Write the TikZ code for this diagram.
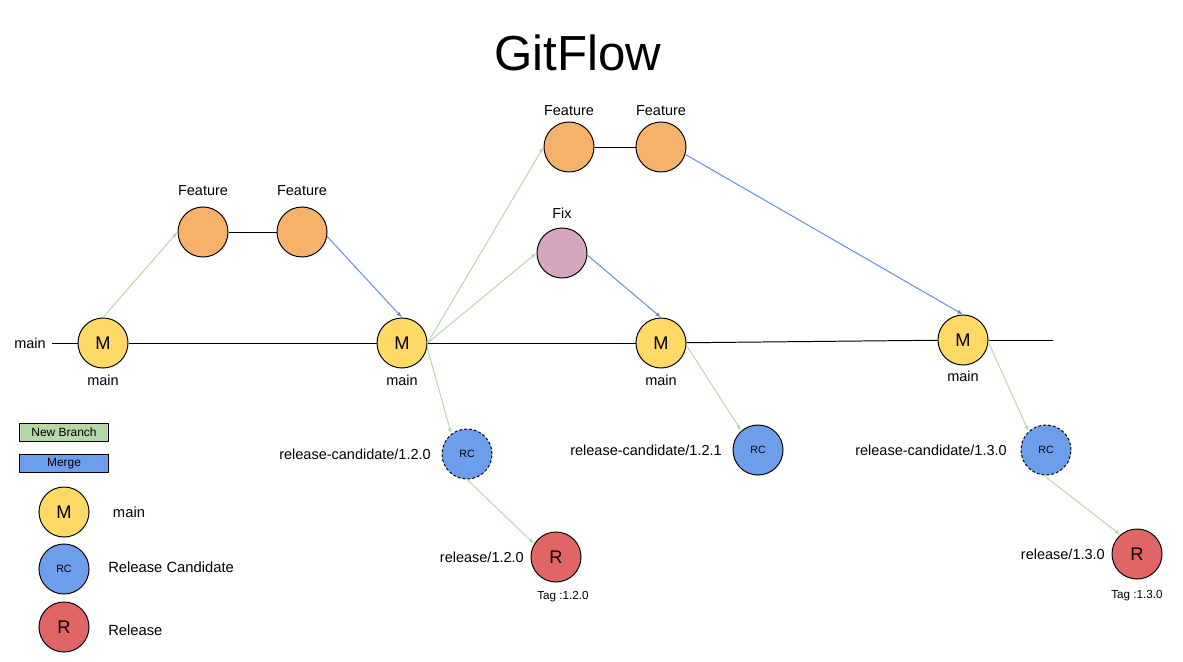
\documentclass[tikz,border=0pt]{standalone}
\usepackage{fontspec}
\setmainfont{Liberation Sans}
\usetikzlibrary{arrows.meta}
\definecolor{gfyellow}{HTML}{FFD966}
\definecolor{gforange}{HTML}{F6B26B}
\definecolor{gfpink}{HTML}{D5A6BD}
\definecolor{gfblue}{HTML}{6D9EEB}
\definecolor{gfred}{HTML}{E06666}
\definecolor{gfgreen}{HTML}{B6D7A8}
\newcommand\fsz[1]{\fontsize{#1}{#1}\selectfont}

\begin{document}
\begin{tikzpicture}[x=0.025cm, y=-0.025cm,
	commit/.style = {draw, circle, line width=0.7pt, minimum size=1.25cm, inner sep=0pt},
	mnode/.style = {commit, fill=gfyellow, font=\fsz{13}},
	feat/.style = {commit, fill=gforange},
	fixnode/.style = {commit, fill=gfpink},
	rcnode/.style = {commit, fill=gfblue, font=\fsz{7.5}},
	relnode/.style = {commit, fill=gfred, font=\fsz{13}},
	lbl/.style = {font=\fsz{10.3}, inner sep=0pt},
	legbox/.style = {draw, line width=0.7pt, minimum width=2.2cm, minimum height=0.47cm, inner sep=0pt, font=\fsz{8.5}},
	branch/.style = {draw=gfgreen, line width=0.7pt, -{Latex[length=4pt,width=3pt]}},
	merge/.style = {draw=gfblue!90!black, line width=0.7pt, -{Latex[length=4pt,width=3pt]}}]
	\useasboundingbox (0,0) rectangle (1183,662);
	\node[font=\fsz{35}] (title) at (578,53) {GitFlow};
	% main line
	\node[lbl] (start) at (30,343) {main};
	\coordinate (m0) at (52,343);
	\coordinate (m5) at (1053,340);
	\node[mnode] (M1) at (103,343) {M};
	\node[mnode] (M2) at (402,343) {M};
	\node[mnode] (M3) at (661,343) {M};
	\node[mnode] (M4) at (963,340) {M};
	\node[lbl] (lM1) at (103,380) {main};
	\node[lbl] (lM2) at (402,380) {main};
	\node[lbl] (lM3) at (661,380) {main};
	\node[lbl] (lM4) at (963,376) {main};
	% features and fix
	\node[feat] (F1) at (203,232) {};
	\node[feat] (F2) at (302,232) {};
	\node[feat] (F3) at (569,147) {};
	\node[feat] (F4) at (661,147) {};
	\node[fixnode] (Fix) at (562,253) {};
	\node[lbl] (lF1) at (203,191) {Feature};
	\node[lbl] (lF2) at (302,191) {Feature};
	\node[lbl] (lF3) at (569,111) {Feature};
	\node[lbl] (lF4) at (661,111) {Feature};
	\node[lbl] (lFix) at (562,213) {Fix};
	% release candidates and releases
	\node[rcnode, dashed, dash pattern=on 2pt off 1.5pt] (RC1) at (467,454) {RC};
	\node[rcnode] (RC2) at (758,450) {RC};
	\node[rcnode, dashed, dash pattern=on 2pt off 1.5pt] (RC3) at (1046,450) {RC};
	\node[relnode] (R1) at (556,557) {R};
	\node[relnode] (R2) at (1137,554) {R};
	\node[lbl, anchor=east] (lRC1) at (431,454) {release-candidate/1.2.0};
	\node[lbl, anchor=east] (lRC2) at (722,450) {release-candidate/1.2.1};
	\node[lbl, anchor=east] (lRC3) at (1007,450) {release-candidate/1.3.0};
	\node[lbl, anchor=east] (lR1) at (524,557) {release/1.2.0};
	\node[lbl, anchor=east] (lR2) at (1105,554) {release/1.3.0};
	\node[lbl, font=\fsz{8.3}] (tag1) at (563,597) {Tag :1.2.0};
	\node[lbl, font=\fsz{8.3}] (tag2) at (1137,596) {Tag :1.3.0};
	% legend
	\node[legbox, fill=gfgreen] (nb) at (64,432.5) {New Branch};
	\node[legbox, fill=gfblue] (mg) at (64,463.5) {Merge};
	\node[mnode] (legM) at (64,512) {M};
	\node[rcnode] (legRC) at (64,569) {RC};
	\node[relnode] (legR) at (64,627) {R};
	\node[lbl, font=\fsz{10.5}] (tM) at (129,512) {main};
	\node[lbl, font=\fsz{10.5}, anchor=west] (tRC) at (108,567) {Release Candidate};
	\node[lbl, font=\fsz{10.5}, anchor=west] (tR) at (108,630) {Release};
	% connections
	\draw[line width=0.7pt] (m0) -- (M1);
	\draw[line width=0.7pt] (M1) -- (M2);
	\draw[line width=0.7pt] (M2) -- (M3);
	\draw[line width=0.7pt] (M3) -- (M4);
	\draw[line width=0.7pt] (M4) -- (m5);
	\draw[line width=0.7pt] (F1) -- (F2);
	\draw[line width=0.7pt] (F3) -- (F4);
	\draw[branch] (M1.north) -- (F1.west);
	\draw[merge] (F2.-10) -- (M2.north);
	\draw[branch] (M2.east) -- (F3.west);
	\draw[branch] (M2.east) -- (Fix.west);
	\draw[branch] (M2.-10) -- (RC1.128);
	\draw[merge] (Fix.-5) -- (M3.north);
	\draw[branch] (M3.-5) -- (RC2.131);
	\draw[merge] (F4.-17) -- (M4.north);
	\draw[branch] (M4.-5) -- (RC3.133);
	\draw[branch] (RC1.south) -- (R1.149);
	\draw[branch] (RC3.-95) -- (R2.131);
\end{tikzpicture}
\end{document}
